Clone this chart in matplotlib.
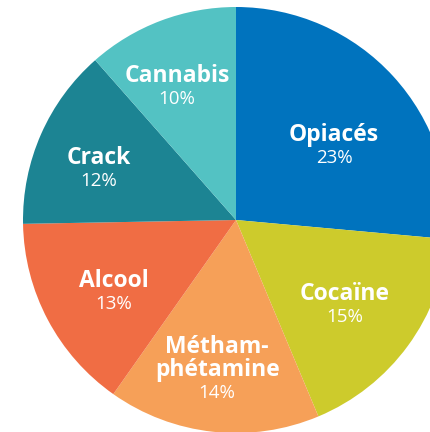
import numpy as np
import matplotlib.pyplot as plt

categories = ["Opiacés", "Cocaïne", "Métham-\nphétamine", "Alcool", "Crack", "Cannabis"]
values = [23, 15, 14, 13, 12, 10]
colors = ["#0073BE", "#CDCB2C", "#F6A058", "#F06D44", "#1C8493", "#53C2C3"]
# label anchor (percent line): angle shift from wedge middle, radial distance
label_shift = [-10.1, -5.5, 0.0, 6.6, 7.9, 5.3]
label_dist = [0.545, 0.685, 0.817, 0.696, 0.669, 0.632]

plt.rcParams['font.family'] = ['Open Sans', 'DejaVu Sans']

fig = plt.figure(figsize=(4.3, 4.32), dpi=100)
ax = fig.add_axes([0, 0, 1, 1])

# pie radius 213px, centre at (236, 220) px from top-left
r = 213.0
wedges, _ = ax.pie(values, colors=colors, startangle=90, counterclock=False,
                   radius=1.0, wedgeprops=dict(linewidth=0))

for w, name, val, s, d in zip(wedges, categories, values, label_shift, label_dist):
    ang = np.deg2rad((w.theta1 + w.theta2) / 2 + s)
    x, y = d * np.cos(ang), d * np.sin(ang)
    ax.text(x, y, f"{val}%", ha="center", va="center", color="white",
            fontsize=13.5)
    ax.text(x, y + 0.05, name, ha="center", va="bottom", color="white",
            fontsize=16.5, fontweight="bold", linespacing=0.95)

ax.set_xlim(-236 / r, (430 - 236) / r)
ax.set_ylim(-(432 - 220) / r, 220 / r)
ax.set_aspect("auto")
ax.axis("off")

fig.savefig("out.png", dpi=100)
